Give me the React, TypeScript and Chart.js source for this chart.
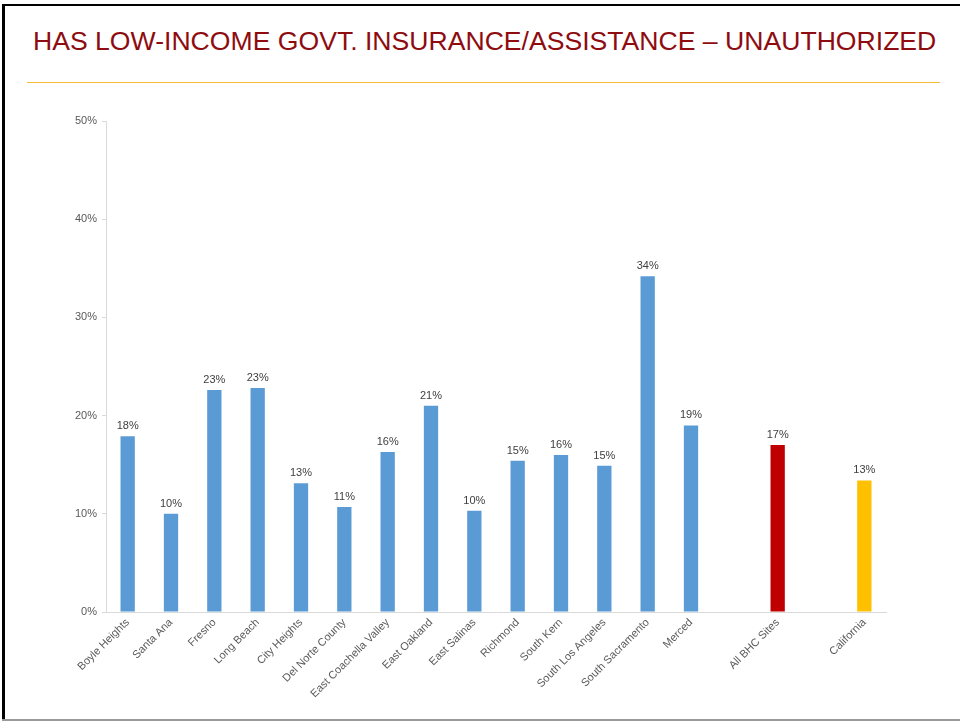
import React, { useEffect, useRef } from "react";
import { Chart, registerables } from "chart.js";

Chart.register(...registerables);

const TITLE = "HAS LOW-INCOME GOVT. INSURANCE/ASSISTANCE – UNAUTHORIZED";

const categories = [
  "Boyle Heights",
  "Santa Ana",
  "Fresno",
  "Long Beach",
  "City Heights",
  "Del Norte County",
  "East Coachella Valley",
  "East Oakland",
  "East Salinas",
  "Richmond",
  "South Kern",
  "South Los Angeles",
  "South Sacramento",
  "Merced",
  "",
  "All BHC Sites",
  "",
  "California",
];

const values: (number | null)[] = [
  17.9, 10.0, 22.6, 22.8, 13.1, 10.7, 16.3, 21.0, 10.3, 15.4, 16.0, 14.9, 34.2, 19.0, null, 17.0, null, 13.4,
];

const BLUE = "#5B9BD5";
const RED = "#C00000";
const GOLD = "#FFC000";
const barColors = [
  BLUE, BLUE, BLUE, BLUE, BLUE, BLUE, BLUE, BLUE, BLUE, BLUE, BLUE, BLUE, BLUE, BLUE, BLUE, RED, BLUE, GOLD,
];

const yMin = 0;
const yMax = 50;
const yStep = 10;

const FONT = '"Liberation Sans", Arial, sans-serif';

const labelPlugin = {
  id: "barValueLabels",
  afterDatasetsDraw(chart: any) {
    const { ctx } = chart;
    const meta = chart.getDatasetMeta(0);
    ctx.save();
    ctx.font = `11px ${FONT}`;
    ctx.fillStyle = "#404040";
    ctx.textAlign = "center";
    ctx.textBaseline = "alphabetic";
    meta.data.forEach((bar: any, i: number) => {
      const v = values[i];
      if (v == null) return;
      ctx.fillText(Math.round(v) + "%", bar.x, bar.y - 7);
    });
    ctx.restore();
  },
};

export default function App() {
  const canvasRef = useRef<HTMLCanvasElement | null>(null);

  useEffect(() => {
    if (!canvasRef.current) return;
    const chart = new Chart(canvasRef.current, {
      type: "bar",
      data: {
        labels: categories,
        datasets: [
          {
            data: values,
            backgroundColor: barColors,
            barPercentage: 0.33,
            categoryPercentage: 1,
          },
        ],
      },
      options: {
        responsive: false,
        animation: false,
        events: [],
        layout: { padding: { top: 21, right: 74, left: 0, bottom: 0 } },
        plugins: {
          legend: { display: false },
          tooltip: { enabled: false },
          title: { display: false },
        },
        scales: {
          x: {
            grid: { display: true, drawOnChartArea: false, drawTicks: false },
            border: { display: true, color: "#D9D9D9", width: 1 },
            ticks: {
              autoSkip: false,
              maxRotation: 45,
              minRotation: 45,
              color: "#595959",
              font: { family: FONT, size: 11 },
              padding: 4,
            },
            afterFit: (s: any) => {
              s.height = 108;
            },
          },
          y: {
            min: yMin,
            max: yMax,
            ticks: {
              stepSize: yStep,
              callback: (v: any) => v + "%",
              color: "#595959",
              font: { family: FONT, size: 11 },
              padding: 5,
            },
            grid: { drawOnChartArea: false, drawTicks: true, tickLength: 4, color: "#D9D9D9" },
            border: { display: true, color: "#D9D9D9", width: 1 },
            afterFit: (s: any) => {
              s.width = 106;
            },
          },
        },
      },
      plugins: [labelPlugin],
    });
    return () => chart.destroy();
  }, []);

  return (
    <div
      style={{
        position: "fixed",
        left: 0,
        top: 0,
        width: 960,
        height: 721,
        background: "#fff",
        overflow: "hidden",
        fontFamily: FONT,
      }}
    >
      <div style={{ position: "absolute", left: 2, top: 4, width: 958, height: 2, background: "#000" }} />
      <div style={{ position: "absolute", left: 2, top: 4, width: 3, height: 717, background: "#000" }} />
      <div style={{ position: "absolute", left: 2, top: 719, width: 958, height: 2, background: "#9A9A9A" }} />
      <div
        style={{
          position: "absolute",
          left: 33,
          top: 28,
          fontSize: "26.6px",
          lineHeight: 1,
          color: "#8E0C10",
          whiteSpace: "nowrap",
        }}
      >
        {TITLE}
      </div>
      <div style={{ position: "absolute", left: 27, top: 82, width: 913, height: 1, background: "#F2BA3A" }} />
      <canvas
        ref={canvasRef}
        width={960}
        height={620}
        style={{ position: "absolute", left: 0, top: 100, width: 960, height: 620 }}
      />
    </div>
  );
}
